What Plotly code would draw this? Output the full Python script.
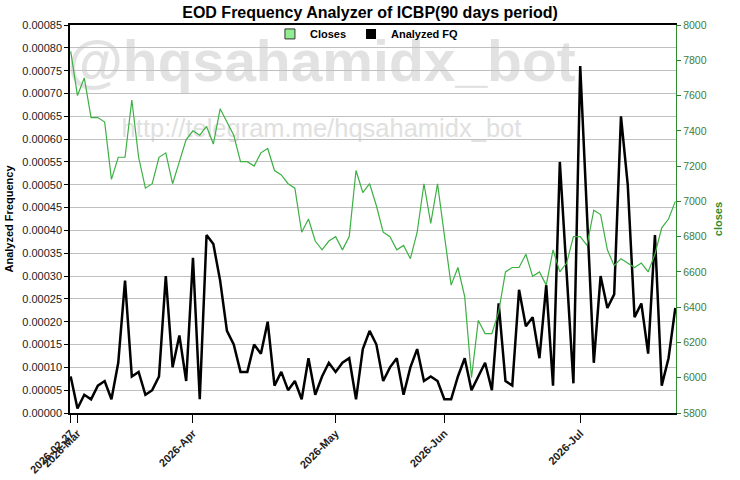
import pandas as pd
import plotly.graph_objects as go

# ---- data ----
holidays = ["2026-03-18", "2026-03-19", "2026-03-20", "2026-03-23", "2026-03-24",
            "2026-04-03", "2026-05-01", "2026-05-14", "2026-05-15", "2026-05-27",
            "2026-05-28", "2026-06-01", "2026-06-16"]
dates = [d.strftime("%Y-%m-%d") for d in pd.bdate_range("2026-02-27", "2026-07-21")
         if d.strftime("%Y-%m-%d") not in holidays]

closes = [7850, 7600, 7700, 7475, 7475, 7450, 7125, 7250, 7250, 7575,
          7250, 7075, 7100, 7250, 7275, 7100, 7225, 7350, 7400, 7375,
          7425, 7325, 7525, 7450, 7375, 7225, 7225, 7200, 7275, 7300,
          7175, 7150, 7100, 7075, 6825, 6900, 6775, 6725, 6775, 6800,
          6725, 6800, 7175, 7050, 7100, 6975, 6825, 6800, 6725, 6750,
          6675, 6825, 7100, 6875, 7100, 6810, 6525, 6625, 6460, 6000,
          6325, 6250, 6250, 6375, 6600, 6625, 6625, 6700, 6575, 6600,
          6525, 6725, 6600, 6650, 6800, 6800, 6750, 6950, 6925, 6725,
          6635, 6675, 6650, 6625, 6650, 6600, 6700, 6850, 6900, 7000]

freq = [0.00008, 0.00001, 0.00004, 0.00003, 0.00006, 0.00007, 0.00003, 0.00011, 0.00029, 0.00008,
        0.00009, 0.00004, 0.00005, 0.00008, 0.00030, 0.00010, 0.00017, 0.00007, 0.00034, 0.00003,
        0.00039, 0.00037, 0.00029, 0.00018, 0.00015, 0.00009, 0.00009, 0.00015, 0.00013, 0.00020,
        0.00006, 0.00009, 0.00005, 0.00007, 0.00003, 0.00012, 0.00004, 0.00008, 0.00011, 0.00009,
        0.00011, 0.00012, 0.00003, 0.00014, 0.00018, 0.00015, 0.00007, 0.00010, 0.00012, 0.00004,
        0.00010, 0.00014, 0.00007, 0.00008, 0.00007, 0.00003, 0.00003, 0.00008, 0.00012, 0.00005,
        0.00008, 0.00011, 0.00005, 0.00024, 0.00007, 0.00006, 0.00027, 0.00019, 0.00021, 0.00012,
        0.00028, 0.00006, 0.00055, 0.00031, 0.000065, 0.00076, 0.000435, 0.00011, 0.00030, 0.00023,
        0.00026, 0.00065, 0.00050, 0.00021, 0.00024, 0.00013, 0.00039, 0.00006, 0.00012, 0.00023]

tick_dates = ["2026-02-27", "2026-03-02", "2026-04-01", "2026-05-04", "2026-06-02", "2026-07-01"]
tick_labels = ["2026-02-27", "2026-Mar", "2026-Apr", "2026-May", "2026-Jun", "2026-Jul"]

FONT = "Liberation Sans, Arial, sans-serif"

fig = go.Figure()

fig.add_trace(go.Scatter(x=dates, y=freq, mode="lines", yaxis="y",
                         line=dict(color="black", width=2.5), showlegend=False,
                         name="Analyzed FQ"))
fig.add_trace(go.Scatter(x=dates, y=closes, mode="lines", yaxis="y2",
                         line=dict(color="#3cb043", width=1.2), showlegend=False,
                         name="Closes"))

# legend entries (square swatches)
fig.add_trace(go.Scatter(x=[None], y=[None], mode="markers", name="Closes",
                         marker=dict(symbol="square", size=10, color="#90ee90",
                                     line=dict(color="#333", width=1))))
fig.add_trace(go.Scatter(x=[None], y=[None], mode="markers", name="Analyzed FQ",
                         marker=dict(symbol="square", size=10, color="black")))

# watermark (drawn below traces)
fig.add_shape(type="rect", xref="paper", yref="paper", x0=0.0, x1=0.83, y0=0.86, y1=0.98,
              line=dict(width=0), fillcolor="rgba(0,0,0,0)", layer="below",
              label=dict(text="@hqsahamidx_bot", textposition="middle center",
                         font=dict(family=FONT, size=57, color="#e2e2e2", weight="bold")))
fig.add_shape(type="rect", xref="paper", yref="paper", x0=0.0, x1=0.83, y0=0.69, y1=0.79,
              line=dict(width=0), fillcolor="rgba(0,0,0,0)", layer="below",
              label=dict(text="http://telegram.me/hqsahamidx_bot", textposition="middle center",
                         font=dict(family=FONT, size=25.5, color="#e0e0e0")))

fig.update_layout(
    width=740, height=480,
    margin=dict(l=70, r=64, t=25, b=67, autoexpand=False),
    paper_bgcolor="white", plot_bgcolor="white",
    font=dict(family=FONT, size=11, color="#222"),
    title=dict(text="<b>EOD Frequency Analyzer of ICBP(90 days period)</b>",
               x=0.5, xanchor="center", y=0.975, yanchor="middle",
               font=dict(size=16, color="black")),
    legend=dict(orientation="h", x=0.49, xanchor="center", y=0.977, yanchor="middle",
                bgcolor="rgba(0,0,0,0)", font=dict(size=11, color="black", weight="bold"),
                itemwidth=30),
    xaxis=dict(type="category", range=[-0.1, len(dates) - 0.9],
               tickmode="array", tickvals=tick_dates, ticktext=tick_labels,
               tickangle=-45, ticks="outside", ticklen=8, tickcolor="black",
               tickfont=dict(size=11, color="#222", weight="bold"),
               showline=True, linecolor="black", linewidth=1.5, mirror=True,
               showgrid=False, zeroline=False),
    yaxis=dict(range=[0, 0.00085], dtick=0.00005, tickformat=".5f",
               ticks="outside", ticklen=4, tickcolor="black",
               showline=True, linecolor="black", linewidth=1.5,
               showgrid=True, gridcolor="#c0c0c0", gridwidth=1, zeroline=False,
               title=dict(text="<b>Analyzed Frequency</b>", font=dict(size=11, color="black"),
                          standoff=6)),
    yaxis2=dict(range=[5800, 8000], dtick=200, overlaying="y", side="right",
                ticks="outside", ticklen=4, tickcolor="#2e7d32",
                showline=True, linecolor="#2e8b2e", linewidth=1.2,
                showgrid=False, zeroline=False,
                tickfont=dict(size=10.5, color="#3c7d3c"),
                title=dict(text="<b>closes</b>", font=dict(size=11, color="#2e8b2e"),
                           standoff=8)),
)

fig.write_html("out.html")
